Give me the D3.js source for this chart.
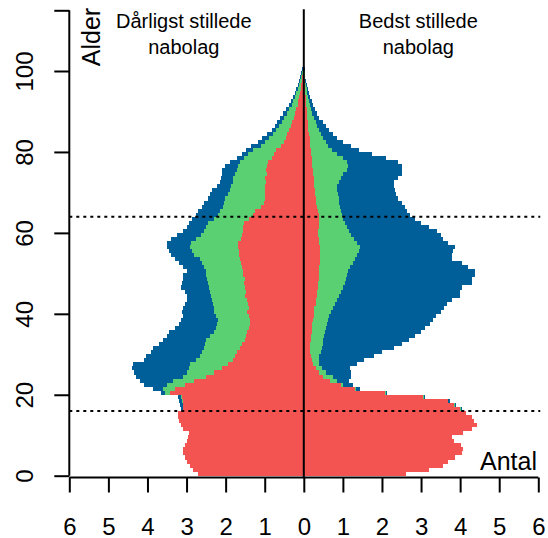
<!DOCTYPE html>
<html>
<head>
<meta charset="utf-8">
<script src="https://cdn.jsdelivr.net/npm/d3@7"></script>
<style>
  html, body { margin: 0; padding: 0; background: #ffffff; }
  svg { display: block; font-family: "Liberation Sans", Arial, sans-serif; }
</style>
</head>
<body>
<svg id="chart" width="548" height="538"></svg>
<script>
// ---- Data (values in thousands; outer edge of each stacked band, read per age 0..102) ----
// Left side: "Dårligst stillede nabolag"
const worstRed = [
  2.7,2.84,2.92,3.0,3.03,3.08,3.08,3.03,2.98,2.96,
  2.95,3.1,3.14,3.2,3.22,3.22,3.08,3.08,3.1,3.12,
  3.43,3.3,3.05,2.8,2.5,2.3,2.1,1.95,1.8,1.75,
  1.7,1.62,1.58,1.5,1.48,1.45,1.4,1.38,1.37,1.4,
  1.45,1.4,1.42,1.45,1.5,1.48,1.5,1.52,1.5,1.55,
  1.55,1.58,1.6,1.62,1.65,1.65,1.68,1.68,1.6,1.58,
  1.55,1.55,1.52,1.4,1.3,1.25,1.1,1.02,1.0,0.98,
  0.98,0.99,0.97,0.98,0.95,0.96,0.94,0.92,0.82,0.76,
  0.7,0.58,0.5,0.46,0.42,0.37,0.33,0.3,0.26,0.22,
  0.19,0.16,0.14,0.12,0.1,0.08,0.06,0.05,0.035,0.025,
  0.015,0.01,0.005
];
const worstGreen = [
  0,0,0,0,0,0,0,0,0,0,
  0,0,0,0,0,0,3.1,3.1,3.12,3.15,
  3.55,3.6,3.5,3.35,3.1,3.0,2.95,2.9,2.75,2.65,
  2.6,2.55,2.52,2.5,2.4,2.3,2.25,2.22,2.2,2.25,
  2.3,2.3,2.32,2.35,2.38,2.4,2.42,2.45,2.48,2.5,
  2.5,2.55,2.6,2.65,2.8,2.85,2.9,2.88,2.75,2.62,
  2.55,2.5,2.45,2.3,2.2,2.15,2.08,2.05,2.02,1.95,
  1.9,1.85,1.82,1.8,1.75,1.72,1.68,1.62,1.52,1.42,
  1.3,1.1,0.98,0.9,0.8,0.72,0.64,0.57,0.5,0.43,
  0.37,0.31,0.27,0.23,0.19,0.16,0.12,0.09,0.07,0.05,
  0.03,0.015,0.01
];
const worstBlue = [
  0,0,0,0,0,0,0,0,0,0,
  0,0,0,0,0,0,3.15,3.17,3.2,3.22,
  3.65,3.85,4.1,4.2,4.3,4.35,4.4,4.38,4.1,4.05,
  3.9,3.85,3.7,3.6,3.5,3.45,3.3,3.2,3.15,3.1,
  3.12,3.1,3.05,3.0,2.98,3.05,3.15,3.12,3.1,3.1,
  3.0,3.1,3.2,3.3,3.4,3.45,3.5,3.5,3.4,3.25,
  3.1,3.0,2.95,2.85,2.75,2.7,2.6,2.55,2.45,2.4,
  2.35,2.22,2.15,2.12,2.1,2.1,2.02,1.9,1.72,1.58,
  1.48,1.35,1.18,1.06,0.95,0.82,0.74,0.68,0.6,0.52,
  0.45,0.38,0.32,0.27,0.23,0.2,0.15,0.12,0.09,0.06,
  0.04,0.02,0.01
];
// Right side: "Bedst stillede nabolag"
const bestRed = [
  2.62,3.2,3.55,3.7,3.87,4.05,4.08,4.02,3.85,3.8,
  4.08,4.3,4.42,4.35,4.3,4.15,4.0,3.85,3.68,3.06,
  2.08,1.3,0.95,0.68,0.5,0.38,0.3,0.23,0.2,0.18,
  0.17,0.16,0.17,0.18,0.19,0.2,0.21,0.22,0.23,0.25,
  0.26,0.27,0.3,0.32,0.33,0.35,0.36,0.37,0.38,0.38,
  0.4,0.4,0.42,0.42,0.42,0.42,0.42,0.4,0.38,0.37,
  0.37,0.38,0.38,0.4,0.4,0.36,0.33,0.31,0.3,0.29,
  0.28,0.27,0.26,0.25,0.24,0.23,0.22,0.21,0.2,0.19,
  0.18,0.17,0.16,0.15,0.13,0.12,0.11,0.1,0.09,0.08,
  0.07,0.06,0.05,0.045,0.04,0.03,0.025,0.02,0.015,0.01,
  0.005,0.005,0.003
];
const bestGreen = [
  0,0,0,0,0,0,0,0,0,0,
  0,0,0,0,0,0,4.01,3.86,3.69,3.07,
  2.1,1.33,1.0,0.85,0.75,0.58,0.46,0.4,0.38,0.4,
  0.43,0.46,0.48,0.5,0.52,0.55,0.57,0.6,0.62,0.65,
  0.7,0.75,0.8,0.85,0.9,0.95,1.0,1.05,1.08,1.1,
  1.14,1.18,1.25,1.3,1.35,1.4,1.45,1.36,1.28,1.2,
  1.15,1.1,1.06,1.0,0.97,0.95,0.93,0.9,0.89,0.88,
  0.86,0.85,0.9,0.95,1.01,1.1,1.14,1.1,1.0,0.85,
  0.72,0.62,0.56,0.5,0.45,0.4,0.35,0.3,0.26,0.22,
  0.19,0.16,0.13,0.11,0.09,0.07,0.05,0.04,0.03,0.02,
  0.01,0.01,0.005
];
const bestBlue = [
  0,0,0,0,0,0,0,0,0,0,
  0,0,0,0,0,0,4.06,3.9,3.73,3.11,
  2.14,1.45,1.25,1.15,1.2,1.2,1.19,1.35,1.55,1.8,
  2.0,2.3,2.5,2.7,2.85,3.0,3.1,3.22,3.3,3.38,
  3.5,3.58,3.66,3.8,4.0,4.0,4.05,4.3,4.3,4.38,
  4.38,4.2,4.04,3.8,3.78,3.83,3.87,3.7,3.57,3.5,
  3.4,3.2,3.0,2.85,2.72,2.65,2.6,2.5,2.42,2.36,
  2.34,2.3,2.3,2.4,2.5,2.51,2.5,2.42,2.1,1.75,
  1.4,1.2,1.0,0.85,0.75,0.65,0.56,0.48,0.4,0.34,
  0.29,0.24,0.2,0.16,0.13,0.1,0.08,0.06,0.04,0.03,
  0.02,0.01,0.005
];

const xTicks = [-6,-5,-4,-3,-2,-1,0,1,2,3,4,5,6];
const xTickLabels = ["6","5","4","3","2","1","0","1","2","3","4","5","6"];
const yTicks = [0,20,40,60,80,100];
const yTop = 115;
const refLines = [16, 64];
const leftTitle = ["Dårligst stillede", "nabolag"];
const rightTitle = ["Bedst stillede", "nabolag"];

const colors = { red: "#F35452", green: "#5BD073", blue: "#005E98" };

// ---- Scales ----
const svg = d3.select("#chart");
const x = d3.scaleLinear().domain([-6, 6]).range([69.3, 538.3]);
const y = d3.scaleLinear().domain([0, yTop]).range([475.7, 475.7 - yTop * 4.047]);

// ---- Bars ----
function rows(redArr, greenArr, blueArr, sign) {
  const out = [];
  redArr.forEach((r, age) => {
    const g = Math.max(greenArr[age], r);
    const b = Math.max(blueArr[age], g);
    out.push({age, x0: 0, x1: r, color: colors.red, sign});
    if (g > r) out.push({age, x0: r, x1: g, color: colors.green, sign});
    if (b > g) out.push({age, x0: g, x1: b, color: colors.blue, sign});
  });
  return out;
}
const barData = rows(worstRed, worstGreen, worstBlue, -1)
  .concat(rows(bestRed, bestGreen, bestBlue, 1));

svg.append("g").attr("shape-rendering", "crispEdges")
  .selectAll("rect").data(barData).join("rect")
  .attr("x", d => Math.min(x(d.sign * d.x0), x(d.sign * d.x1)))
  .attr("width", d => Math.abs(x(d.sign * d.x1) - x(d.sign * d.x0)))
  .attr("y", d => y(d.age + 1))
  .attr("height", d => y(d.age) - y(d.age + 1))
  .attr("fill", d => d.color);

// ---- Reference lines ----
svg.append("g").selectAll("line").data(refLines).join("line")
  .attr("x1", x(-6)).attr("x2", x(6.05))
  .attr("y1", d => y(d)).attr("y2", d => y(d))
  .attr("stroke", "#000").attr("stroke-width", 2)
  .attr("stroke-dasharray", "3,4");

// vertical zero line
svg.append("line")
  .attr("x1", x(0)).attr("x2", x(0))
  .attr("y1", 477.5).attr("y2", y(yTop) - 1)
  .attr("stroke", "#000").attr("stroke-width", 2);

// ---- Axes ----
const xAxis = d3.axisBottom(x).tickValues(xTicks)
  .tickFormat((d, i) => xTickLabels[i]).tickSize(15).tickPadding(8);
const gx = svg.append("g").attr("transform", "translate(0,477.5)").call(xAxis);
gx.select(".domain").attr("stroke-width", 2).attr("d", `M${x(-6)},0H${x(6)}`);
gx.selectAll(".tick line").attr("stroke-width", 2);
gx.selectAll(".tick text").attr("font-size", 24).attr("fill", "#000")
  .attr("font-family", "'Liberation Sans', Arial, sans-serif")
  .attr("dy", null).attr("y", 57);

const yAxis = d3.axisLeft(y).tickValues(yTicks.concat([yTop]))
  .tickFormat(d => yTicks.includes(d) ? String(d) : "").tickSize(15);
const gy = svg.append("g").attr("transform", "translate(69.3,0)").call(yAxis);
gy.select(".domain").attr("stroke-width", 2)
  .attr("d", `M0,${y(0)}V${y(yTop)}`);
gy.selectAll(".tick line").attr("stroke-width", 2);
gy.selectAll(".tick text")
  .attr("font-size", 24).attr("fill", "#000")
  .attr("font-family", "'Liberation Sans', Arial, sans-serif")
  .attr("x", null).attr("dy", null)
  .attr("text-anchor", "middle")
  .attr("transform", "translate(-36,0) rotate(-90)");

// ---- Labels ----
svg.append("text")
  .attr("transform", `translate(100,37) rotate(-90)`)
  .attr("text-anchor", "middle").attr("font-size", 25).text("Alder");

svg.append("text")
  .attr("x", 537).attr("y", 470).attr("text-anchor", "end")
  .attr("font-size", 25).text("Antal");

function title(lines, cx) {
  const t = svg.append("text").attr("text-anchor", "middle").attr("font-size", 20);
  lines.forEach((s, i) => {
    t.append("tspan").attr("x", cx).attr("y", 28 + i * 26).text(s);
  });
}
title(leftTitle, x(-3.07));
title(rightTitle, x(2.93));
</script>
</body>
</html>
